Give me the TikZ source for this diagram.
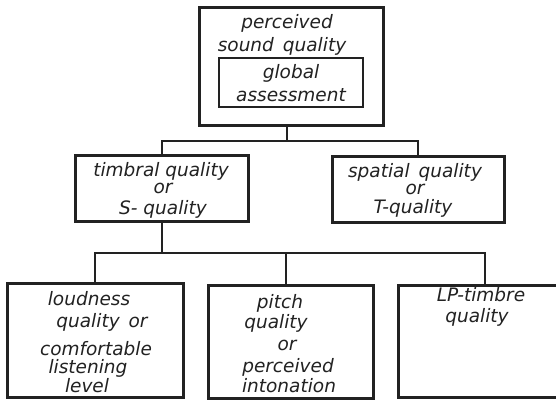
\documentclass[tikz,border=0pt]{standalone}
\usepackage{fontspec}
\setmainfont{DejaVu Sans}
\definecolor{ink}{HTML}{222222}
\begin{document}
\begin{tikzpicture}[x=1pt,y=-1pt,
  box/.style={draw=ink, line width=3pt, rectangle, inner sep=0pt},
  innerbox/.style={draw=ink, line width=2pt, rectangle, inner sep=0pt},
  conn/.style={draw=ink, line width=1.8pt},
  txt/.style={text=ink, font=\fontsize{18.5}{21}\selectfont\itshape, inner sep=0pt, anchor=base}]
\fill[white] (0,0) rectangle (556,400);
\useasboundingbox (0,0) rectangle (556,400);
\clip (0,0) rectangle (556,400);
% boxes
\node[box, minimum width=184pt, minimum height=118pt] (top) at (291,66) {};
\node[innerbox, minimum width=144pt, minimum height=49pt] (glob) at (291,82.5) {};
\node[box, minimum width=173pt, minimum height=66pt] (timbral) at (162,188) {};
\node[box, minimum width=172pt, minimum height=66pt] (spatial) at (418,189) {};
\node[box, minimum width=176pt, minimum height=114pt] (loud) at (95,340.5) {};
\node[box, minimum width=165pt, minimum height=113pt] (pitch) at (290.5,341.5) {};
\node[box, minimum width=174pt, minimum height=112pt] (lp) at (485,341) {};
% texts
\node[txt] (t1) at (287,28) {perceived};
\node[txt] (t2) at (282,51) {sound\, quality};
\node[txt] (t3) at (291,78) {global};
\node[txt] (t4) at (291,101) {assessment};
\node[txt] (s1) at (161,176) {timbral quality};
\node[txt] (s2) at (163,193) {or};
\node[txt] (s3) at (163,214) {S- quality};
\node[txt] (p1) at (415,177) {spatial\, quality};
\node[txt] (p2) at (415,194) {or};
\node[txt] (p3) at (413,213) {T-quality};
\node[txt] (l1) at (89,305) {loudness};
\node[txt] (l2) at (102,327) {quality\, or};
\node[txt] (l3) at (96,355) {comfortable};
\node[txt] (l4) at (88,373) {listening};
\node[txt] (l5) at (87,392) {level};
\node[txt] (q1) at (280,308) {pitch};
\node[txt] (q2) at (276,328) {quality};
\node[txt] (q3) at (287,350) {or};
\node[txt] (q4) at (288,372) {perceived};
\node[txt] (q5) at (289,392) {intonation};
\node[txt] (r1) at (481,301) {LP-timbre};
\node[txt] (r2) at (477,322) {quality};
% connectors
\coordinate (b1) at (287,141);
\coordinate (b2) at (286,253);
\draw[conn] (top.south -| b1) -- (b1);
\draw[conn] (timbral.north) -- (timbral.north |- b1) -- (spatial.north |- b1) -- (spatial.north);
\draw[conn] (timbral.south) -- (timbral.south |- b2);
\draw[conn] (loud.north) -- (loud.north |- b2) -- (lp.north |- b2) -- (lp.north);
\draw[conn] (b2) -- (pitch.north -| b2);
\end{tikzpicture}
\end{document}
